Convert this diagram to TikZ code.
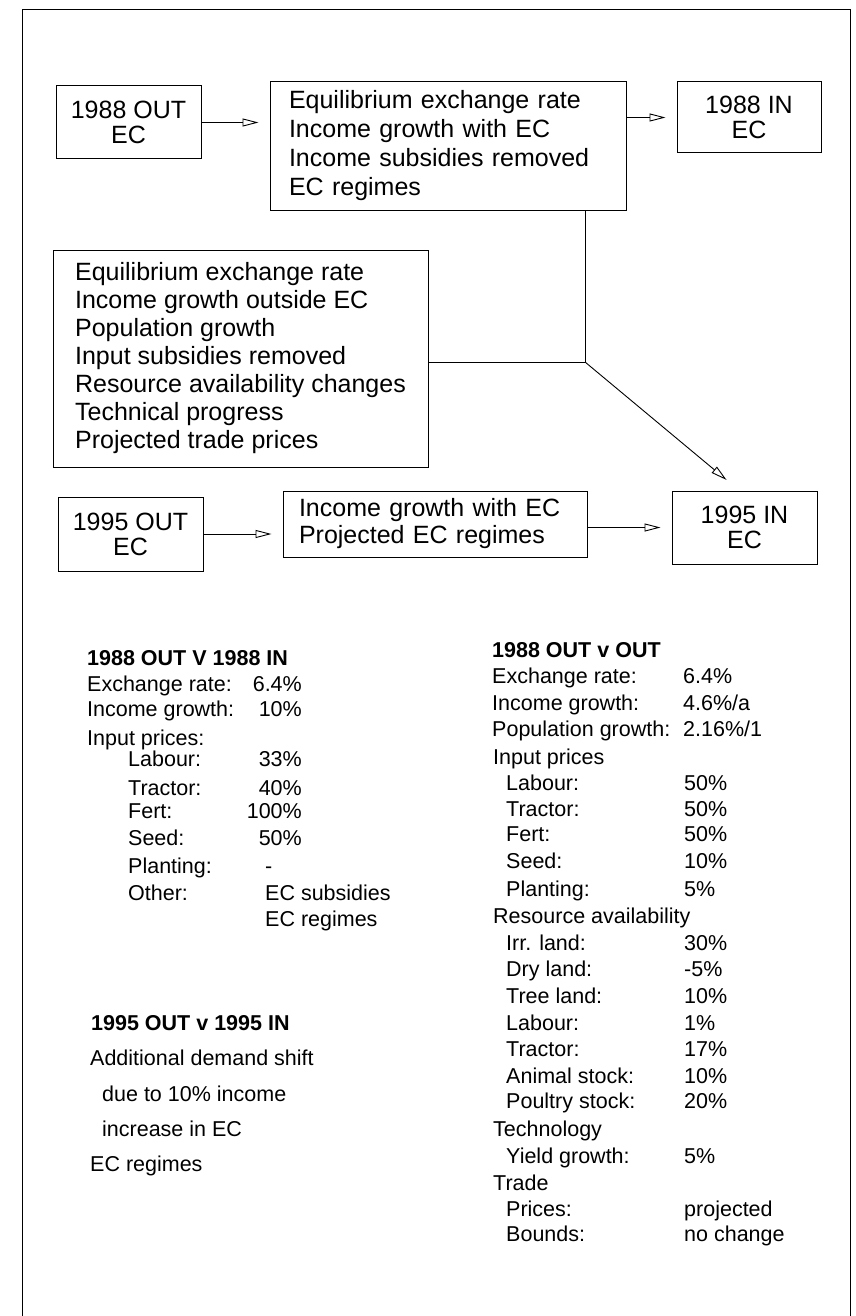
\documentclass[tikz,border=0pt]{standalone}
\usepackage{fontspec}
\setmainfont{Liberation Sans}
\usepackage{tikz}
\usetikzlibrary{positioning, calc, arrows.meta}

\begin{document}
\begin{tikzpicture}[
    x=1pt, y=-1pt,
    box/.style={draw, line width=1pt, align=center, inner sep=0pt, font=\fontsize{25}{25}\selectfont},
    listbox/.style={draw, line width=1pt, align=left, inner sep=0pt},
    flow/.style={-{Triangle[open, length=16pt, width=8pt]}, line width=0.9pt, shorten >=11pt},
    link/.style={line width=0.9pt},
    txt/.style={anchor=west, inner sep=0pt, text height=16pt, text depth=0pt, font=\fontsize{21.5}{26}\selectfont},
    num/.style={txt, anchor=east},
    head/.style={txt, font=\fontsize{21.5}{26}\selectfont\bfseries},
  ]
  \useasboundingbox (0,0) rectangle (855,1316);
  % frame
  \draw[link] (22,1316) -- (22,9) -- (850,9) -- (850,1316);

  % 1988 row
  \node[box, minimum width=145pt, minimum height=73pt] (out88) at (128.5,122.5) {1988 OUT\\EC};
  \node[listbox, minimum width=356pt, minimum height=128pt, text width=318pt,
        font=\fontsize{25}{29}\selectfont] (mid88) at (448,146)
    {Equilibrium exchange rate\\Income growth with EC\\Income subsidies removed\\EC regimes};
  \node[box, minimum width=144pt, minimum height=71pt] (in88) at (749,117.5) {1988 IN\\EC};

  % changes outside EC
  \node[listbox, minimum width=375pt, minimum height=217pt,
        font=\fontsize{25}{28}\selectfont] (big) at (240.5,358.5)
    {Equilibrium exchange rate\\Income growth outside EC\\Population growth\\Input subsidies removed\\Resource availability changes\\Technical progress\\Projected trade prices};

  % 1995 row
  \node[box, minimum width=145pt, minimum height=74pt] (out95) at (130.5,534) {1995 OUT\\EC};
  \node[listbox, minimum width=304pt, minimum height=66pt, text width=272pt,
        font=\fontsize{25}{27}\selectfont] (mid95) at (435,524)
    {Income growth with EC\\Projected EC regimes};
  \node[box, minimum width=145pt, minimum height=73pt] (in95) at (744.5,527.5) {1995 IN\\EC};

  % connectors
  \coordinate (junc) at (585,362);
  \coordinate (tip) at (735,487);
  \draw[flow] (out88.east) -- (out88.east -| mid88.west);
  \draw[flow] (mid88.east |- in88.west) -- (in88.west);
  \draw[flow] (out95.east) -- (out95.east -| mid95.west);
  \draw[flow] (mid95.east |- in95.west) -- (in95.west);
  \draw[link] (mid88.south -| junc) -- (junc);
  \draw[link] (big.east |- junc) -- (junc);
  \draw[flow] (junc) -- (tip);

  % 1988 OUT V 1988 IN
  \node[head] (ha) at (87,657) {1988 OUT V 1988 IN};
  \foreach \y/\t/\v [count=\i] in {683/Exchange rate:/6.4\%, 708/Income growth:/10\%} {
    \node[txt] (la\i) at (87,\y) {\t};
    \node[num] (va\i) at (302,\y) {\v};
  }
  \node[txt] (la3) at (87,737) {Input prices:};
  \foreach \y/\t/\v [count=\i] in {758/Labour:/33\%, 787/Tractor:/40\%, 810/Fert:/100\%, 837/Seed:/50\%} {
    \node[txt] (lb\i) at (128,\y) {\t};
    \node[num] (vb\i) at (302,\y) {\v};
  }
  \node[txt] (lb5) at (128,865) {Planting:};
  \node[txt] (vb5) at (265,865) {-};
  \node[txt] (lb6) at (128,892) {Other:};
  \node[txt] (vb6) at (265,892) {EC subsidies};
  \node[txt] (vb7) at (265,918) {EC regimes};

  % 1995 OUT v 1995 IN
  \node[head] (hb) at (91,1022) {1995 OUT v 1995 IN};
  \node[txt] (lc1) at (90,1057) {Additional demand shift};
  \node[txt] (lc2) at (102,1093) {due to 10\% income};
  \node[txt] (lc3) at (102,1128) {increase in EC};
  \node[txt] (lc4) at (90,1163) {EC regimes};

  % 1988 OUT v OUT
  \node[head] (hc) at (492,649) {1988 OUT v OUT};
  \foreach \y/\t/\v [count=\i] in {675/Exchange rate:/6.4\%, 702/Income growth:/{4.6\%/a}, 728/Population growth:/{2.16\%/1}} {
    \node[txt] (ld\i) at (492,\y) {\t};
    \node[txt] (vd\i) at (683,\y) {\v};
  }
  \foreach \y/\t [count=\i] in {756/Input prices, 915/Resource availability, 1128/Technology, 1182/Trade} {
    \node[txt] (ge\i) at (493,\y) {\t};
  }
  \foreach \y/\t/\v [count=\i] in {782/Labour:/50\%, 808/Tractor:/50\%, 833/Fert:/50\%, 860/Seed:/10\%, 888/Planting:/5\%,
      942/Irr. land:/30\%, 968/Dry land:/-5\%, 995/Tree land:/10\%, 1022/Labour:/1\%, 1048/Tractor:/17\%,
      1075/Animal stock:/10\%, 1100/Poultry stock:/20\%, 1155/Yield growth:/5\%, 1208/Prices:/projected, 1233/Bounds:/no change} {
    \node[txt] (le\i) at (506,\y) {\t};
    \node[txt] (ve\i) at (684,\y) {\v};
  }
\end{tikzpicture}
\end{document}
